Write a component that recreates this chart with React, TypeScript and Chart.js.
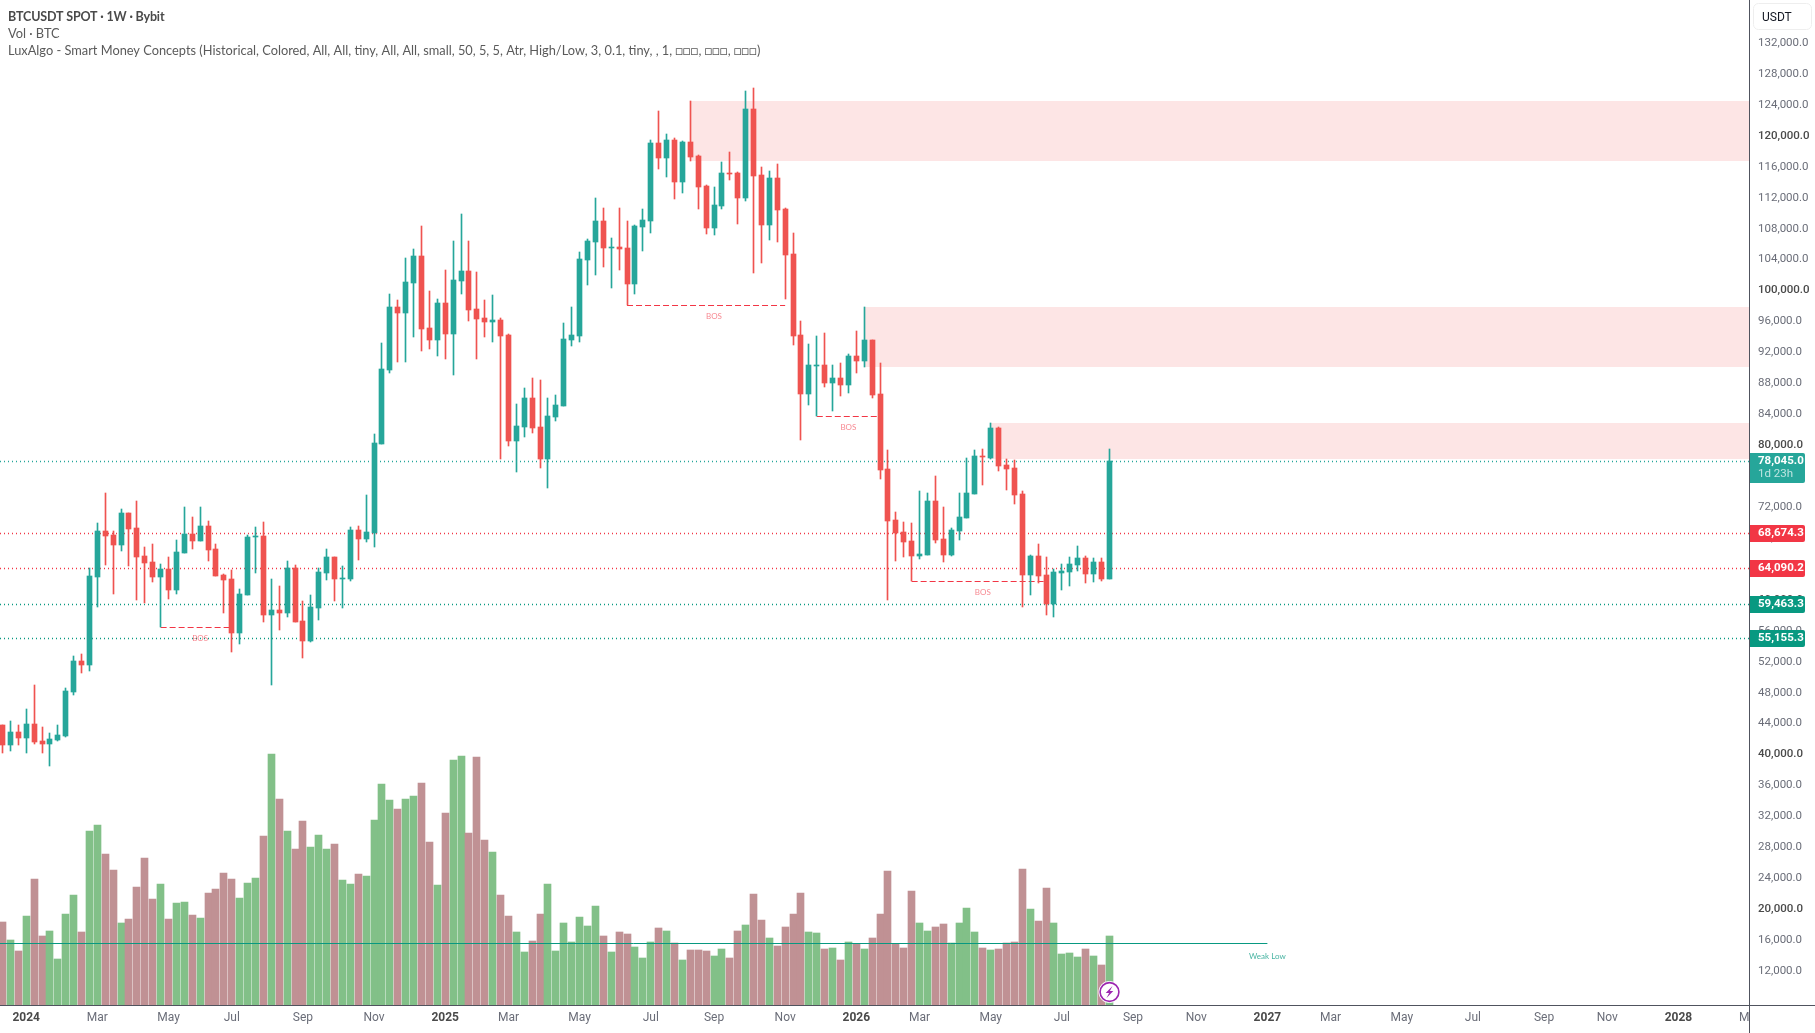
import React, { useEffect, useRef } from "react";
import { Chart, registerables } from "chart.js";

Chart.register(...registerables);

const opens = [43949,41406,43043,42311,44078,41880,41535,42009,42526,48215,52224,51706,63085,69033,68515,67222,71360,69421,65800,65024,63085,64119,61404,66188,68645,67740,69679,66705,63343,62826,55844,60757,68257,68386,58171,58818,58430,64249,57396,54810,59077,63602,65671,62826,62826,69162,67998,68774,80282,89850,97996,97220,101099,104590,95281,93729,98513,94505,101358,102651,97737,96574,96056,96315,94375,80670,82480,86230,82480,78342,83773,85195,93729,94246,104073,106400,109116,105625,105754,105625,100970,108340,109116,119201,117262,119589,114158,119330,117520,113641,108211,111055,115322,115322,112090,123597,115063,108598,114676,110667,104849,94375,86747,90367,90496,88169,88816,87910,91660,91014,93729,86747,77049,70455,68903,67740,65800,65929,72912,67998,65929,69033,70714,73817,78730,78472,82351,77566,77179,73817,63343,65800,63343,59594,63602,63731,64636,65542,63473,65024,62826];
const closes = [41406,43043,42311,44078,41793,41535,42138,42655,48345,52224,51706,63214,69033,68386,67222,71360,69291,65671,64895,63085,64119,61404,66317,68645,67740,69679,66576,63214,62697,55844,60887,68257,68386,58171,58818,58430,64249,57266,54810,59206,63731,65671,62826,62956,69162,67998,68903,80411,89979,97996,97220,101228,104590,95151,93729,98513,94505,101487,102651,97608,96444,96056,96315,94246,80670,82609,86230,82351,78342,83902,85324,93858,94375,104202,106530,109116,105625,105754,105495,100970,108469,109245,119201,117262,119589,114158,119330,117391,113512,108211,111184,115322,115193,112090,123597,114934,108598,114676,110538,104719,94246,86747,90496,90496,88169,88816,87910,91660,91014,93729,86617,76920,70326,68774,67610,65800,66059,72912,67869,65929,69162,70843,73946,78730,78601,82351,77437,77049,73687,63343,65800,63214,59594,63731,63861,64766,65542,63473,65024,62826,78045];
const highs = [43950,44466,43949,46017,49120,43690,42914,43949,48733,52870,53129,64249,70067,73946,69033,71877,71360,72912,66964,67352,64766,65671,67869,72136,70843,72136,70326,67352,63473,63990,61533,68515,69550,70196,62826,61921,65154,64636,59982,60757,64249,66705,65671,64507,69550,69679,73687,81575,93341,99677,98901,104332,105495,108469,100065,99030,102780,106530,110021,106530,102521,98901,99547,96574,94505,85454,87523,88816,88557,86230,86617,95927,97996,105107,106788,112090,110797,106918,110797,109116,108598,110667,119589,123339,120365,119848,119460,124632,117650,113770,113512,116744,118037,115451,125925,126313,116098,115581,116486,110797,107564,96186,93212,94246,94634,90496,90755,91919,94893,97996,93729,90755,79506,71489,70196,70067,74205,73946,76144,72136,69421,73946,78472,79506,79635,82997,82480,78342,78213,74205,65929,67352,65671,64119,64766,65671,67093,65800,65542,65542,79635];
const lows = [40372,40630,41406,40372,41535,40372,38690,41923,42397,47827,50672,50931,59206,64636,60887,66447,64507,60111,59723,62438,56577,60240,60887,66188,66705,67740,65154,63214,58430,53387,54422,60757,63602,57266,49120,56232,57913,57266,52612,54680,57525,62697,59982,59077,62568,65283,67610,66964,80282,89462,90884,90884,94117,92307,92565,91660,91272,89203,99677,96186,91272,94117,93470,78342,80023,76661,81187,81704,77179,74593,83256,85195,92953,93470,100840,102133,103168,100453,102780,98211,99677,105237,107564,115839,114805,111960,112736,116874,110667,107435,107305,110667,114417,108728,111702,102392,103685,106659,106400,99030,93082,80799,85324,83859,87652,84549,86488,86876,89462,90238,86230,75756,60111,65154,65671,62525,65412,65929,67481,65024,65800,67869,70714,73817,74980,78342,76791,74334,72524,59206,60757,62309,58171,57913,61404,61921,63861,62309,62438,62568,62826];
const volumes = [8300,6500,5400,8900,12600,6900,7400,4600,9100,11000,7300,17400,18000,15100,13500,8200,8600,11800,14700,10600,12100,8600,10200,10300,9000,8700,11200,11600,13200,12600,10700,12200,12700,16900,25100,20600,17400,15600,18400,15800,17000,15600,16100,12500,12100,13100,12900,18500,22100,20500,19600,20600,20900,22200,16300,12000,19200,24500,24900,17200,24800,16500,15300,11000,8900,7300,5300,6400,9100,12100,5400,8200,6300,8800,7900,9900,6900,5300,7300,7100,5800,4700,6300,7700,7400,6200,4500,5500,5500,5400,4900,5600,4700,7400,8000,11100,8500,6700,5900,7800,9100,11200,7300,7200,5600,5700,4500,6300,6100,5600,6700,9100,13400,6100,5700,11400,8200,7400,7800,8100,6200,8200,9700,7300,5700,5500,5600,6200,6300,13600,9600,8400,11700,8200,5100,5200,4800,5600,4900,4000,6900];

const priceLineValues = [78045.0, 68674.3, 64090.2, 59463.3, 55155.3];
const priceLineColors = ["#26a69a", "#f23645", "#f23645", "#089981", "#089981"];

const bosStart = [20, 79, 103, 115];
const bosEnd = [29, 99, 111, 132];
const bosLevel = [56577, 98211, 83859, 62525];
const bosLabelIndex = [25, 90, 107, 124];

const weakLowLevel = 15593;
const weakLowEnd = 160;

const zoneStart = [87, 109, 125];
const zoneTop = [124632, 97996, 82997];
const zoneBottom = [116874, 90238, 78342];

const priceTicks = [132000,128000,124000,120000,116000,112000,108000,104000,100000,96000,92000,88000,84000,80000,76000,72000,68000,64000,60000,56000,52000,48000,44000,40000,36000,32000,28000,24000,20000,16000,12000];
const monthTickIndex = [3,12,21,29,38,47,56,64,73,82,90,99,108,116,125,134,143,151,160,168,177,186,195,203,212,221];
const monthTickLabels = ["2024","Mar","May","Jul","Sep","Nov","2025","Mar","May","Jul","Sep","Nov","2026","Mar","May","Jul","Sep","Nov","2027","Mar","May","Jul","Sep","Nov","2028","Mar"];

const legendLines = [
  "BTCUSDT SPOT · 1W · Bybit",
  "Vol · BTC",
  "LuxAlgo - Smart Money Concepts (Historical, Colored, All, All, tiny, All, All, small, 50, 5, 5, Atr, High/Low, 3, 0.1, tiny, , 1, □□□, □□□, □□□)",
];

const UP = "#26a69a";
const DOWN = "#ef5350";
const VOL_UP = "#82c088";
const VOL_DOWN = "#c09194";
const W = 1815;
const H = 1033;
const AXIS_X = 1749;
const AXIS_Y = 1005;
const X_MIN = -0.316;
const TICK_FONT = "Roboto";
const LEGEND_FONT = "Lato";

const fmt = (v: number) => v.toLocaleString("en-US", { minimumFractionDigits: 1, maximumFractionDigits: 1 });
const idx = opens.map((_, i) => i);
const isUp = (i: number) => closes[i] >= opens[i];
const isRound = (c: any) => (c.tick ? c.tick.value % 20000 === 0 : false);
const isYear = (c: any) => /^\d/.test(String(monthTickLabels[c.index]));
const snapLine = (y: number) => Math.floor(y - 0.3) + 0.5;

const snapPlugin = {
  id: "snap",
  beforeDatasetsDraw(chart: any) {
    chart.data.datasets.forEach((ds: any, di: number) => {
      const meta = chart.getDatasetMeta(di);
      if (ds.type === "line") {
        meta.data.forEach((p: any) => { p.y = snapLine(p.y); });
      } else {
        meta.data.forEach((el: any) => {
          const w = el.width;
          el.x = Math.round(el.x - w / 2) + w / 2;
          const top = Math.round(Math.min(el.y, el.base));
          let bot = Math.round(Math.max(el.y, el.base));
          if (bot - top < 1) bot = top + 1;
          el.y = top;
          el.base = bot;
        });
      }
    });
  },
};

const zonesPlugin = {
  id: "zones",
  beforeDatasetsDraw(chart: any) {
    const { ctx, scales, chartArea } = chart;
    ctx.save();
    ctx.fillStyle = "#fde5e5";
    zoneStart.forEach((s, i) => {
      const x = Math.round(scales.x.getPixelForValue(s));
      const y1 = Math.round(scales.y.getPixelForValue(zoneTop[i]));
      const y2 = Math.round(scales.y.getPixelForValue(zoneBottom[i]));
      ctx.fillRect(x, y1, chartArea.right - x, y2 - y1);
    });
    ctx.restore();
  },
};

const overlayPlugin = {
  id: "overlay",
  afterDraw(chart: any) {
    const { ctx, scales } = chart;
    ctx.save();

    // covers the part of the last month label that runs under the price axis
    ctx.fillStyle = "#ffffff";
    ctx.fillRect(AXIS_X, AXIS_Y + 1, W - AXIS_X, H - AXIS_Y);

    // axis lines
    ctx.fillStyle = "#50535e";
    ctx.fillRect(AXIS_X, 0, 1, H);
    ctx.fillRect(0, AXIS_Y, W, 1);

    // legend
    ctx.textBaseline = "middle";
    ctx.textAlign = "left";
    ctx.fillStyle = "#4a4a4a";
    ctx.font = `bold 12.5px ${LEGEND_FONT}`;
    (ctx as any).letterSpacing = "-0.16px";
    ctx.fillText(legendLines[0], 8, 17);
    (ctx as any).letterSpacing = "0px";
    ctx.fillStyle = "#5a5a5a";
    ctx.font = `12.8px ${LEGEND_FONT}`;
    ctx.fillText(legendLines[1], 8, 34);
    ctx.fillText(legendLines[2], 8, 51);

    // BOS tags
    ctx.textAlign = "center";
    ctx.font = `8px ${LEGEND_FONT}`;
    ctx.fillStyle = "rgba(242,54,69,0.6)";
    bosLabelIndex.forEach((s, i) => {
      ctx.fillText("BOS", scales.x.getPixelForValue(s), scales.y.getPixelForValue(bosLevel[i]) + 11);
    });

    // weak low tag
    ctx.fillStyle = "rgba(8,153,129,0.75)";
    ctx.fillText("Weak Low", scales.x.getPixelForValue(weakLowEnd), scales.y.getPixelForValue(weakLowLevel) + 12.5);

    // price chips
    ctx.textAlign = "left";
    priceLineValues.forEach((v, i) => {
      const y = Math.floor(snapLine(scales.y.getPixelForValue(v)));
      const h = i === 0 ? 30 : 17;
      const top = y - 8;
      ctx.fillStyle = priceLineColors[i];
      ctx.beginPath();
      ctx.roundRect(AXIS_X + 1, top, 55, h, [0, 2, 2, 0]);
      ctx.fill();
      ctx.fillStyle = "#ffffff";
      ctx.font = `bold 11.5px ${TICK_FONT}`;
      ctx.fillText(fmt(v), 1758, y + 0.5);
      if (i === 0) {
        ctx.fillStyle = "rgba(255,255,255,0.7)";
        ctx.font = `11.5px ${TICK_FONT}`;
        ctx.fillText("1d 23h", 1758, y + 13.5);
      }
    });

    // currency box
    ctx.strokeStyle = "#eeeeee";
    ctx.lineWidth = 1;
    ctx.beginPath();
    ctx.roundRect(1753.5, 3.5, 58, 26, 5);
    ctx.stroke();
    ctx.fillStyle = "#131722";
    ctx.font = `12px ${TICK_FONT}`;
    ctx.fillText("USDT", 1762, 17.5);

    // lightning badge on the last volume bar
    const bx = Math.round(scales.x.getPixelForValue(idx[idx.length - 1])) + 0.5;
    const by = scales.v.getPixelForValue(1300);
    ctx.beginPath();
    ctx.arc(bx, by, 11, 0, Math.PI * 2);
    ctx.fillStyle = "#ffffff";
    ctx.fill();
    ctx.beginPath();
    ctx.arc(bx, by, 9.4, 0, Math.PI * 2);
    ctx.strokeStyle = "#9c27b0";
    ctx.lineWidth = 1.6;
    ctx.stroke();
    ctx.beginPath();
    ctx.moveTo(bx + 3, by - 6);
    ctx.lineTo(bx - 3.8, by + 1);
    ctx.lineTo(bx - 0.4, by + 1);
    ctx.lineTo(bx - 3, by + 6);
    ctx.lineTo(bx + 3.8, by - 1);
    ctx.lineTo(bx + 0.4, by - 1);
    ctx.closePath();
    ctx.fillStyle = "#9c27b0";
    ctx.fill();
    ctx.restore();
  },
};

export default function App() {
  const ref = useRef<HTMLCanvasElement>(null);

  useEffect(() => {
    const lineDs = (data: any[], color: string, dash: number[], order: number, width = 1) => ({
      type: "line",
      data,
      borderColor: color,
      borderWidth: width,
      borderDash: dash,
      pointRadius: 0,
      tension: 0,
      xAxisID: "x",
      yAxisID: "y",
      order,
    });

    const chart = new Chart(ref.current as HTMLCanvasElement, {
      type: "bar",
      data: {
        datasets: [
          {
            data: idx.map((i) => ({ x: i, y: volumes[i] })),
            backgroundColor: idx.map((i) => (isUp(i) ? VOL_UP : VOL_DOWN)),
            barThickness: 7,
            grouped: false,
            xAxisID: "x",
            yAxisID: "v",
            order: 50,
          },
          ...priceLineValues.map((v, i) =>
            lineDs([{ x: X_MIN, y: v }, { x: 230, y: v }], priceLineColors[i], [1, 3], 40, 1.4)
          ),
          ...bosStart.map((s, i) =>
            lineDs([{ x: s, y: bosLevel[i] }, { x: bosEnd[i], y: bosLevel[i] }], "#f23645", [6, 3], 30)
          ),
          {
            data: idx.map((i) => ({ x: i, y: [lows[i], highs[i]] })),
            backgroundColor: idx.map((i) => (isUp(i) ? UP : DOWN)),
            barThickness: 1,
            grouped: false,
            xAxisID: "x",
            yAxisID: "y",
            order: 20,
          },
          {
            data: idx.map((i) => ({ x: i, y: [opens[i], closes[i]] })),
            backgroundColor: idx.map((i) => (isUp(i) ? UP : DOWN)),
            barThickness: 5,
            grouped: false,
            xAxisID: "x",
            yAxisID: "y",
            order: 10,
          },
          lineDs([{ x: X_MIN, y: weakLowLevel }, { x: weakLowEnd, y: weakLowLevel }], "#089981", [], 5),
        ],
      } as any,
      options: {
        responsive: false,
        animation: false,
        devicePixelRatio: 1,
        layout: { autoPadding: false, padding: 0 },
        plugins: { legend: { display: false }, tooltip: { enabled: false }, title: { display: false } },
        scales: {
          x: {
            type: "linear",
            position: "bottom",
            offset: false,
            min: X_MIN,
            max: 220.92,
            grid: { display: false, drawTicks: false },
            border: { display: false },
            afterFit: (s: any) => { s.height = H - AXIS_Y; s.paddingLeft = 0; s.paddingRight = 0; },
            afterBuildTicks: (s: any) => { s.ticks = monthTickIndex.map((value) => ({ value })); },
            ticks: {
              autoSkip: false,
              maxRotation: 0,
              minRotation: 0,
              padding: 6,
              callback: (v: any) => monthTickLabels[monthTickIndex.indexOf(v)],
              color: (c: any) => (isYear(c) ? "#4a4a4a" : "#6a6d78"),
              font: (c: any) => ({
                family: TICK_FONT,
                size: 12,
                weight: isYear(c) ? "bold" : "normal",
              }),
            },
          },
          y: {
            type: "linear",
            position: "right",
            min: 7736,
            max: 137699,
            grid: { display: false, drawTicks: false },
            border: { display: false },
            afterFit: (s: any) => { s.width = W - AXIS_X; s.paddingTop = 0; s.paddingBottom = 0; },
            afterBuildTicks: (s: any) => { s.ticks = priceTicks.map((value) => ({ value })); },
            ticks: {
              autoSkip: false,
              padding: 9,
              labelOffset: -1,
              callback: (v: any) => fmt(v),
              color: (c: any) => (isRound(c) ? "#4a4a4a" : "#6a6d78"),
              font: (c: any) => ({
                family: TICK_FONT,
                size: 11.5,
                weight: isRound(c) ? "500" : "normal",
              }),
            },
          },
          v: {
            type: "linear",
            display: false,
            min: 0,
            max: 100530,
          },
        },
      } as any,
      plugins: [zonesPlugin, snapPlugin, overlayPlugin],
    } as any);
    return () => chart.destroy();
  }, []);

  return (
    <div style={{ position: "absolute", left: 0, top: 0, width: W, height: H, background: "#fff" }}>
      <canvas ref={ref} width={W} height={H} style={{ display: "block", width: W, height: H }} />
    </div>
  );
}
